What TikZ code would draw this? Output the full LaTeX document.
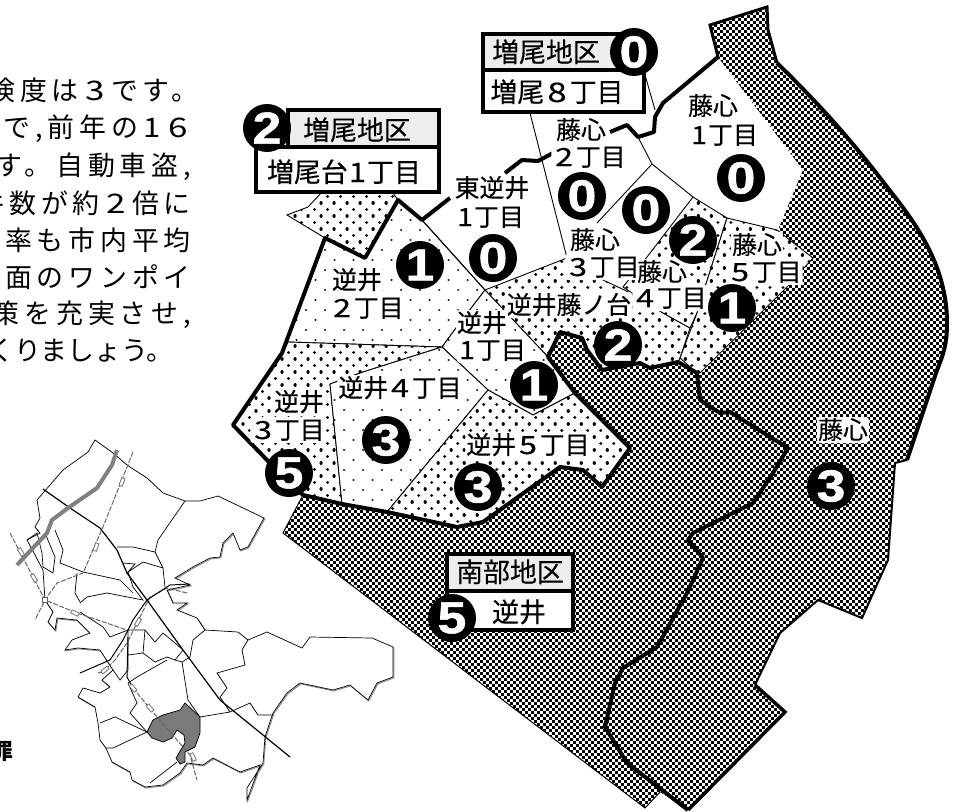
\documentclass[tikz,border=0pt]{standalone}
\usepackage{fontspec}
\usepackage{graphicx}
\newfontfamily\jp[FakeBold=0.25]{Noto Sans CJK JP}
\newfontfamily\jpplain{Noto Sans CJK JP}
\newfontfamily\jpspaced[LetterSpace=18]{Noto Sans CJK JP}
\newfontfamily\numf[BoldFeatures={FakeBold=1.2}]{Liberation Sans}
\newcommand\dg[1]{\makebox[.95em]{\scalebox{1.3}[1]{#1}}}
\newcommand\dga{\makebox[.72em]{\scalebox{1.15}[1]{1}}}
\newcommand\dgb[1]{\makebox[1.2em]{\scalebox{1.3}[1]{#1}}}
\newcommand\dgc{\makebox[1em]{\scalebox{1.15}[1]{1}}}
\newcommand\nm[1]{\scalebox{1.15}[1]{#1}}
\newcommand\mapoutline{(95,440) -- (113,453) -- (127,465) -- (147,478) -- (163,493) -- (185,501) -- (200,501) -- (218,496) -- (264,518) -- (248,547) -- (240,550) -- (233,533) -- (223,543) -- (220,557) -- (210,558) -- (193,567) -- (175,578) -- (190,585) -- (167,590) -- (173,603) -- (187,603) -- (177,610) -- (197,618) -- (205,630) -- (238,632) -- (248,640) -- (267,632) -- (302,648) -- (310,637) -- (372,638) -- (393,647) -- (393,677) -- (377,683) -- (368,700) -- (350,685) -- (333,690) -- (300,683) -- (287,693) -- (273,713) -- (265,737) -- (263,763) -- (247,788) -- (247,800) -- (260,765) -- (240,772) -- (213,758) -- (203,765) -- (187,763) -- (180,773) -- (163,785) -- (145,787) -- (132,780) -- (130,772) -- (112,762) -- (106,748) -- (100,740) -- (98,723) -- (95,707) -- (78,697) -- (83,688) -- (100,693) -- (110,687) -- (102,680) -- (113,670) -- (100,650) -- (78,648) -- (65,650) -- (72,640) -- (90,633) -- (77,620) -- (57,618) -- (55,630) -- (48,622) -- (53,612) -- (45,600) -- (43,570) -- (27,540) -- (40,533) -- (35,527) -- (40,518) -- (37,500) -- (63,470) -- (88,452) -- cycle}
\newcommand\darkpoly{(718,57) -- (710,25) -- (767,7) -- (768,30) -- (777,63)
 .. controls (815,100) and (850,138) .. (887,187) .. controls (915,222) and (947,265) .. (947,323)
 .. controls (947,345) and (943,355) .. (937,370) -- (907,460) -- (895,463) -- (888,560) -- (862,618) -- (818,600) -- (780,633) -- (755,685) -- (785,712) -- (688,810) -- (660,792) -- (645,808) -- (283,533) -- (303,495)
 -- (342,504) -- (387,512) -- (457,527) -- (483,522) -- (560,467) -- (583,470) -- (602,487) -- (630,448) -- (575,393) -- (548,357) -- (560,332) -- (582,338) -- (587,350) -- (602,370) -- (640,363) -- (650,368) -- (678,362) -- (697,373) -- (700,373) -- (787,287) -- (813,258) -- (778,230) -- (803,170) -- cycle}
\newcommand\densereg[1]{\fill[white] #1;
 \begin{scope}\clip #1;
 \draw[dotsa] foreach \y in {190,203,...,530} {(230,\y) -- (830,\y)};
 \draw[dotsa] foreach \y in {196.5,209.5,...,530} {(236.5,\y) -- (830,\y)};
 \end{scope}\draw[ward] #1;}
\newcommand\sparsereg[1]{\fill[white] #1;
 \begin{scope}\clip #1;
 \draw[dotsb] foreach \y in {190,210,...,530} {(230,\y) -- (830,\y)};
 \draw[dotsb] foreach \y in {200,220,...,530} {(239.5,\y) -- (830,\y)};
 \end{scope}\draw[ward] #1;}
\tikzset{
 dotsa/.style={draw=black,line width=3.3bp,line cap=round,dash pattern=on .01bp off 13bp},
 dotsb/.style={draw=black,line width=2.4bp,line cap=round,dash pattern=on .01bp off 19bp},
 chk/.style={draw=black,line width=3bp,dash pattern=on 3bp off 3bp},
 lab/.style={font=\jp\fontsize{25}{25}\selectfont,fill=white,rounded corners=3bp,inner sep=1bp,text height=21bp,text depth=3bp},
 boxlab/.style={font=\jp\fontsize{27}{27}\selectfont,inner sep=0bp,text height=23bp,text depth=3bp},
 bodyline/.style={font=\jpspaced\fontsize{27}{27}\selectfont,anchor=east,inner sep=0bp,text height=23bp,text depth=3bp},
 numc/.style={circle,fill=black,text=white,minimum size=48bp,inner sep=0bp,font=\numf\bfseries\fontsize{45}{45}\selectfont},
 frame/.style={draw=black,line width=3.6bp},
 hdr/.style={frame,fill=black!7},
 ward/.style={draw=black,line width=.9bp},
 bline/.style={draw=black,line width=4bp,line join=round},
 mapl/.style={draw=black,line width=.7bp},
 rail/.style={draw=black!60,line width=1bp,dash pattern=on 5bp off 1.5bp},
 sta/.style={draw=black!60,fill=white,line width=.7bp,minimum width=3.5bp,minimum height=8bp,inner sep=0bp},
}
\begin{document}
\begin{tikzpicture}[x=1bp,y=-1bp]
\path[use as bounding box,clip] (0,0) rectangle (953,812);
\fill[white] (0,0) rectangle (953,812);

% body text
\node[bodyline] (t1) at (199,90) {険度は\dgb{3}です。};
\node[bodyline] (t2) at (191,127) {で,前年の\dgc\dg{6}};
\node[bodyline] (t3) at (191,165) {す。自動車盗,};
\node[bodyline] (t4) at (191,203) {件数が約\dgb{2}倍に};
\node[bodyline] (t5) at (191,240) {率も市内平均};
\node[bodyline] (t6) at (191,277) {裏面のワンポイ};
\node[bodyline] (t7) at (191,313) {策を充実させ,};
\node[bodyline,font=\jpplain\fontsize{27}{27}\selectfont] (t8) at (174,350) {くりましょう。};
\node[font=\jpplain\bfseries\fontsize{22}{22}\selectfont,inner sep=0bp] (t9) at (2,752) {罪};

% dark checker area
\begin{scope}
\clip \darkpoly;
\draw[chk] foreach \y in {1.5,7.5,...,812} {(282,\y) -- (953,\y)};
\draw[chk] foreach \y in {4.5,10.5,...,812} {(285,\y) -- (953,\y)};
\end{scope}
\draw[line width=3bp,line join=miter] (718,57) -- (710,25) -- (767,7) -- (768,30) -- (777,63);
\draw[line width=4bp] (777,63) .. controls (815,100) and (850,138) .. (887,187) .. controls (915,222) and (947,265) .. (947,323) .. controls (947,345) and (943,355) .. (937,370) -- (907,460);
\draw[line width=2bp] (907,460) -- (895,463) -- (888,560) -- (862,618) -- (818,600) -- (780,633) -- (755,685);
\draw[line width=3.5bp,line join=miter] (755,685) -- (785,712) -- (688,810);
\draw[line width=1bp] (660,792) -- (645,808) -- (283,533) -- (303,495);

% dotted districts
\densereg{(322,192) -- (308,207) -- (287,215) -- (325,238) -- (365,258) -- (398,200) -- (392,192) -- cycle}
\sparsereg{(325,238) -- (365,258) -- (398,200) -- (422,220) -- (485,290) -- (472,307) -- (453,332) -- (442,347) -- (288,342) -- (282,353) -- cycle}
\densereg{(567,258) -- (603,280) -- (635,295) -- (663,313) -- (690,328) -- (680,358) -- (678,362) -- (650,368) -- (640,363) -- (602,370) -- (587,350) -- (582,338) -- (560,332) -- (548,357) -- (485,290) -- cycle}
\densereg{(693,197) -- (727,218) -- (705,287) -- (697,313) -- (690,328) -- (663,313) -- (635,295) -- (623,287) -- (647,257) -- cycle}
\densereg{(727,218) -- (777,230) -- (813,258) -- (787,287) -- (700,373) -- (697,373) -- (680,358) -- (697,313) -- (705,287) -- cycle}
\sparsereg{(485,290) -- (548,357) -- (575,393) -- (533,415) -- (488,390) -- (442,347) -- (453,332) -- (472,307) -- cycle}
\densereg{(282,353) -- (288,342) -- (442,347) -- (363,372) -- (330,384) -- (342,504) -- (303,495) -- (267,460) -- (233,425) -- cycle}
\sparsereg{(442,347) -- (488,390) -- (387,512) -- (342,504) -- (330,384) -- (363,372) -- cycle}
\densereg{(488,390) -- (533,415) -- (575,393) -- (630,448) -- (602,487) -- (583,470) -- (560,467) -- (483,522) -- (457,527) -- (387,512) -- cycle}

% thin ward lines in the white part
\draw[ward] (530,113) -- (567,258);
\draw[ward] (645,75) -- (655,110);
\draw[ward] (422,220) -- (485,290);
\draw[ward] (638,137) -- (652,164) -- (597,223);
\draw[ward] (652,164) -- (693,197);

% thick boundaries
\path[bline] (303,495) -- (267,460) -- (233,425) -- (282,353) -- (325,238) -- (365,258) -- (398,200) -- (422,220) -- (450,198);
\path[bline] (505,173) -- (522,160) -- (538,161) -- (553,153);
\path[bline] (610,132) -- (627,125) -- (638,137) -- (654,132) -- (655,117) -- (663,103) -- (718,57);
\path[bline] (303,495) -- (342,504) -- (387,512) -- (457,527) -- (483,522) -- (560,467) -- (583,470) -- (602,487) -- (630,448) -- (575,393) -- (548,357) -- (560,332) -- (582,338) -- (587,350) -- (602,370) -- (640,363) -- (650,368) -- (678,362) -- (697,373) -- (700,400) -- (720,413) -- (730,412) -- (788,448) -- (773,473) -- (753,503) -- (693,533) -- (688,540) -- (703,558) -- (687,593) -- (657,647) -- (623,668) -- (615,683) -- (605,727) -- (627,763) -- (688,810);

% mini map
\begin{scope}
\draw[draw=black!45,line width=1bp,shift={(.8,.9)}] \mapoutline;
\path[mapl,fill=white] \mapoutline;
\path[fill=black!52,mapl] (185,703) -- (200,717) -- (200,733) -- (195,747) -- (185,752) -- (185,762) -- (180,764) -- (176,758) -- (185,743) -- (184,735) -- (177,730) -- (172,738) -- (163,742) -- (152,738) -- (147,732) -- (153,720) -- (163,715) -- (180,710) -- cycle;
\draw[mapl] (185,501) -- (158,540) -- (155,552) -- (163,568) -- (165,587);
\draw[mapl] (117,547) -- (133,547) -- (155,552);
\draw[mapl] (123,563) -- (135,564) -- (128,572) -- (143,562) -- (163,568);
\draw[mapl] (128,572) -- (133,587) -- (143,600) -- (107,593) -- (87,597) -- (80,603);
\draw[mapl] (83,572) -- (97,575) -- (120,580) -- (133,593);
\draw[mapl] (77,573) -- (75,593) -- (80,602);
\draw[mapl] (55,530) -- (63,550) -- (60,563) -- (83,572);
\draw[mapl] (27,540) -- (37,533) -- (42,553) -- (43,567) -- (53,573) -- (55,557) -- (45,533);
\draw[mapl] (80,612) -- (103,627) -- (110,637) -- (128,630);
\draw[mapl] (145,630) -- (143,653) -- (128,655) -- (128,630) -- (145,630) -- (155,642) -- (163,633) -- (175,643) -- (183,650) -- (175,660) -- (167,657) -- (155,662) -- (143,653);
\draw[mapl] (205,630) -- (193,640) -- (190,657) -- (182,662) -- (175,660);
\draw[mapl] (182,662) -- (188,700) -- (200,717) -- (230,712) -- (250,703) -- (258,715) -- (273,715);
\draw[mapl] (248,640) -- (242,650) -- (245,665) -- (217,673) -- (227,688) -- (220,697) -- (230,712);
\draw[mapl] (167,660) -- (137,677) -- (128,683) -- (137,703) -- (130,713) -- (147,732);
\draw[mapl] (113,670) -- (120,680) -- (128,670) -- (128,655);
\draw[mapl] (100,723) -- (115,717) -- (147,732) -- (113,748) -- (106,748);
\draw[mapl] (150,783) -- (177,762);
% expressway
\draw[draw=black,line width=1.2bp] (43,489) -- (70,508) -- (100,528) -- (117,550) -- (127,573) -- (147,600) -- (183,650) -- (220,700) -- (290,757);
% rail lines
\draw[rail] (133,452) -- (103,527) -- (83,573) -- (57,583) -- (45,600) -- (35,620);
\draw[rail] (10,533) -- (45,600) -- (77,613) -- (127,630);
\draw[rail] (187,593) -- (167,588) -- (150,597) -- (137,623) -- (127,643) -- (115,660) -- (103,672) -- (98,673);
\draw[draw=black,line width=1bp] (190,584) -- (170,585) -- (147,600) -- (133,620) -- (123,640) -- (110,660) -- (80,673);
\draw[draw=black,line width=1bp] (128,637) -- (127,677) -- (133,688);
\draw[rail] (133,688) -- (157,717) -- (190,755) -- (197,780);
\node[sta,rotate=-20] (s1) at (122,482) {};
\node[sta,rotate=-20] (s2) at (96,547) {};
\node[sta,rotate=30] (s3) at (21,552) {};
\node[sta,rotate=30] (s4) at (34,578) {};
\node[sta,rotate=65] (s5) at (75,613) {};
\node[sta,rotate=-30] (s6) at (138,622) {};
\node[sta,rotate=-50] (s7) at (105,670) {};
\node[sta,rotate=40] (s8) at (133,688) {};
\node[sta,rotate=40] (s9) at (150,708) {};
\node[sta,rotate=25] (s10) at (193,757) {};
\node[sta,rotate=0,minimum width=5bp,minimum height=5bp] (s11) at (45,600) {};
% road
\draw[draw=black!50,line width=4bp] (117,450) -- (112,465) -- (97,488) -- (68,508) -- (52,520) -- (47,533) -- (17,565);
\end{scope}

% info boxes
\path[hdr] (288,110) rectangle (439,147);
\path[frame,fill=white] (256,147) rectangle (439,192);
\path[hdr] (483,34) rectangle (634,70);
\path[frame,fill=white] (483,70) rectangle (644,112);
\path[hdr] (447,554) rectangle (573,591);
\path[frame,fill=white] (447,591) rectangle (573,630);
\node[boxlab] (b1) at (357,130) {増尾地区};
\node[boxlab] (b2) at (344,172) {増尾台\dga 丁目};
\node[boxlab] (b3) at (546,52) {増尾地区};
\node[boxlab] (b4) at (557,92) {増尾\dg{8}丁目};
\node[boxlab] (b5) at (510,572) {南部地区};
\node[boxlab] (b6) at (519,612) {逆井};

% district names
\node[lab] (l1) at (492,188) {東逆井};
\node[lab] (l2) at (490,217) {\dga 丁目};
\node[lab] (l3) at (581,130) {藤心};
\node[lab] (l4) at (589,157) {\dg{2}丁目};
\node[lab] (l5) at (713,106) {藤心};
\node[lab] (l6) at (724,135) {\dga 丁目};
\node[lab] (l7) at (595,240) {藤心};
\node[lab] (l8) at (603,267) {\dg{3}丁目};
\node[lab] (l9) at (662,272) {藤心};
\node[lab] (l10) at (670,298) {\dg{4}丁目};
\node[lab] (l11) at (757,245) {藤心};
\node[lab] (l12) at (765,272) {\dg{5}丁目};
\node[lab] (l13) at (569,305) {逆井藤ノ台};
\node[lab] (l14) at (357,280) {逆井};
\node[lab] (l15) at (367,308) {\dg{2}丁目};
\node[lab] (l16) at (482,323) {逆井};
\node[lab] (l17) at (492,350) {\dga 丁目};
\node[lab] (l18) at (400,388) {逆井\dg{4}丁目};
\node[lab] (l19) at (299,402) {逆井};
\node[lab] (l20) at (288,430) {\dg{3}丁目};
\node[lab] (l21) at (528,445) {逆井\dg{5}丁目};
\node[lab] (l22) at (843,430) {藤心};

% crime level badges
\node[numc] (n1) at (267,128) {\nm{2}};
\node[numc] (n2) at (634,52) {\nm{0}};
\node[numc] (n3) at (582,196) {\nm{0}};
\node[numc] (n4) at (646,210) {\nm{0}};
\node[numc] (n5) at (741,178) {\nm{0}};
\node[numc] (n6) at (493,258) {\nm{0}};
\node[numc] (n7) at (420,265) {\nm{1}};
\node[numc] (n8) at (693,240) {\nm{2}};
\node[numc] (n9) at (732,308) {\nm{1}};
\node[numc] (n10) at (618,345) {\nm{2}};
\node[numc] (n11) at (534,385) {\nm{1}};
\node[numc] (n12) at (386,440) {\nm{3}};
\node[numc] (n13) at (478,487) {\nm{3}};
\node[numc] (n14) at (289,473) {\nm{5}};
\node[numc] (n15) at (831,486) {\nm{3}};
\node[numc] (n16) at (452,618) {\nm{5}};
\end{tikzpicture}
\end{document}
